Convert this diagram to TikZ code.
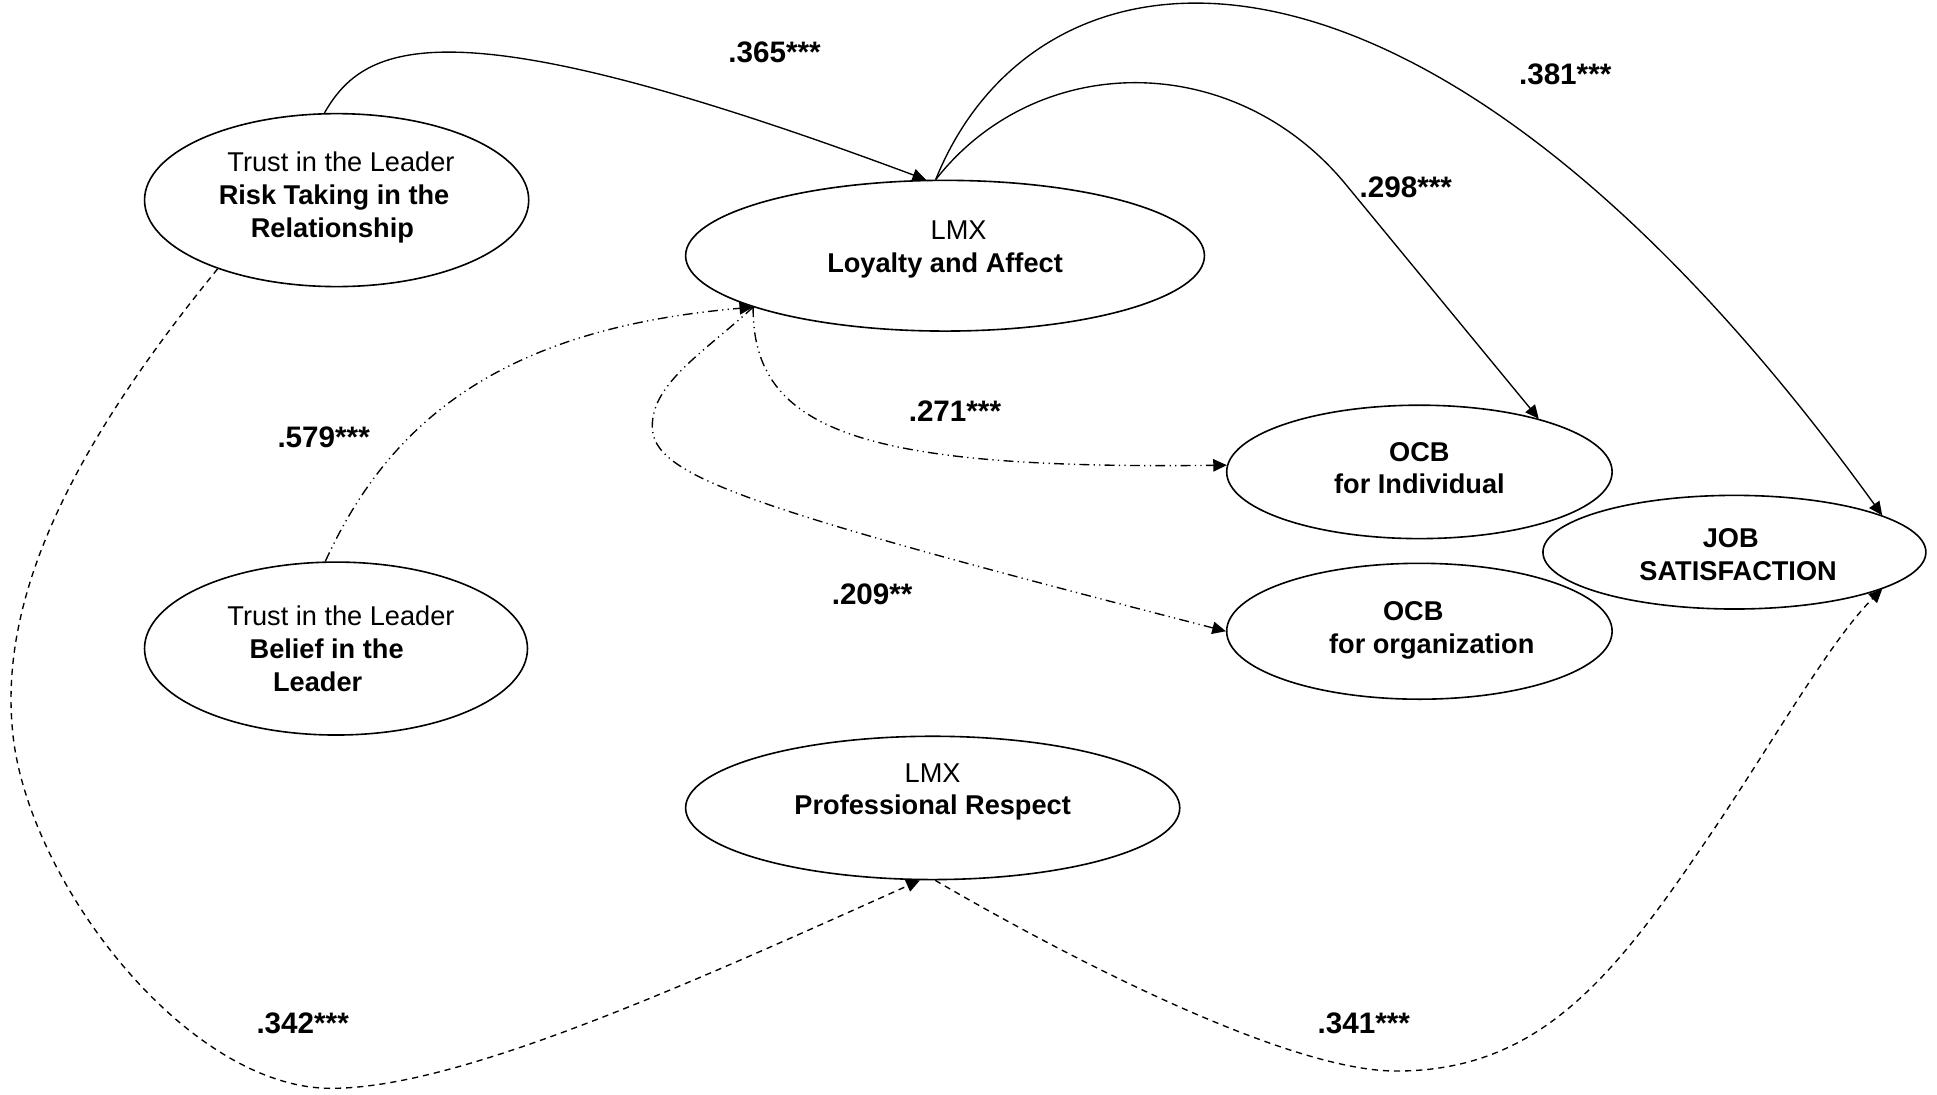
\documentclass[tikz,border=0pt]{standalone}
\usepackage{fontspec}
\setmainfont{Liberation Sans}
\usetikzlibrary{shapes.geometric,arrows.meta}
\begin{document}
\begin{tikzpicture}[x=1pt,y=-1pt,
  construct/.style={draw, ellipse, line width=1.3pt, inner sep=0pt},
  ctext/.style={font=\fontsize{22}{26.5}\selectfont, align=center, inner sep=0pt},
  coef/.style={font=\fontsize{24}{28}\selectfont\bfseries, inner sep=0pt},
  link/.style={line width=1.1pt, -{Triangle[length=11pt,width=10pt]}},
  direct/.style={link},
  indirect/.style={link, dash pattern=on 8pt off 3.5pt on 1pt off 3.5pt on 1pt off 3.5pt},
  covar/.style={link, dash pattern=on 5pt off 4pt}]

\useasboundingbox (0,0) rectangle (1568,886);

% constructs
\node[construct, minimum width=311pt, minimum height=140pt,
  label={[ctext, align=left, yshift=2pt]center:{\hspace*{7pt}Trust in the Leader\\\textbf{Risk Taking in the}\\\hspace*{26pt}\textbf{Relationship}}}]
  (risk) at (272.5,162) {};
\node[construct, minimum width=420pt, minimum height=122pt,
  label={[ctext, yshift=5pt]center:{LMX\hspace*{-22pt}\\\textbf{Loyalty and Affect}}}]
  (loyal) at (765,207) {};
\node[construct, minimum width=312pt, minimum height=108pt,
  label={[ctext, yshift=3pt]center:{\textbf{OCB}\\\textbf{for Individual}}}]
  (ocbi) at (1149,382) {};
\node[construct, minimum width=310pt, minimum height=92pt,
  label={[ctext, yshift=-2pt, xshift=3pt]center:{\textbf{JOB}\hspace*{12pt}\\\textbf{SATISFACTION}}}]
  (job) at (1404,447) {};
\node[construct, minimum width=312pt, minimum height=110pt,
  label={[ctext, yshift=1pt, xshift=10pt]center:{\textbf{OCB}\hspace*{30pt}\\\textbf{for organization}}}]
  (ocbo) at (1149,511) {};
\node[construct, minimum width=310pt, minimum height=140pt,
  label={[ctext, align=left, xshift=4pt]center:{Trust in the Leader\\\hspace*{18pt}\textbf{Belief in the}\\\hspace*{37pt}\textbf{Leader}}}]
  (belief) at (272,525) {};
\node[construct, minimum width=400pt, minimum height=116pt,
  label={[ctext, yshift=13pt]center:{LMX\\\textbf{Professional Respect}}}]
  (resp) at (755,654) {};

% path coefficients
\node[coef] (c365) at (627,42) {.365***};
\node[coef] (c381) at (1267,60) {.381***};
\node[coef] (c298) at (1138,152) {.298***};
\node[coef] (c271) at (773,333) {.271***};
\node[coef] (c579) at (262,354) {.579***};
\node[coef] (c209) at (706,481) {.209**};
\node[coef] (c342) at (245,828) {.342***};
\node[coef] (c341) at (1104,828) {.341***};

% solid paths
\draw[direct] (risk.98) .. controls (295,35) and (360,0) .. (loyal.104);
\draw[direct] (loyal.97) .. controls (840,40) and (1000,40) .. (1090,150) -- (ocbi.24);
\draw[direct] (loyal.97) .. controls (840,-60) and (1150,-100) .. (job.14);

% dash-dot paths
\draw[indirect] (belief.97) .. controls (320,330) and (420,265) .. (loyal.195);
\draw[indirect] (loyal.195) .. controls (609,350) and (700,380) .. (ocbi.178);
\draw[indirect] (loyal.195) .. controls (570,285) and (528,310) .. (528,345)
  .. controls (528,385) and (600,410) .. (ocbo.180);

% dashed paths
\draw[covar] (risk.210) .. controls (60,360) and (0,480) .. (10,590)
  .. controls (20,710) and (150,881) .. (268,881)
  .. controls (370,881) and (550,800) .. (resp.260);
\draw[covar] (resp.272) .. controls (857,771) and (1040,867) .. (1130,867)
  .. controls (1240,867) and (1300,800) .. (1376,688)
  .. controls (1430,610) and (1480,520) .. (job.-14);
\end{tikzpicture}
\end{document}
